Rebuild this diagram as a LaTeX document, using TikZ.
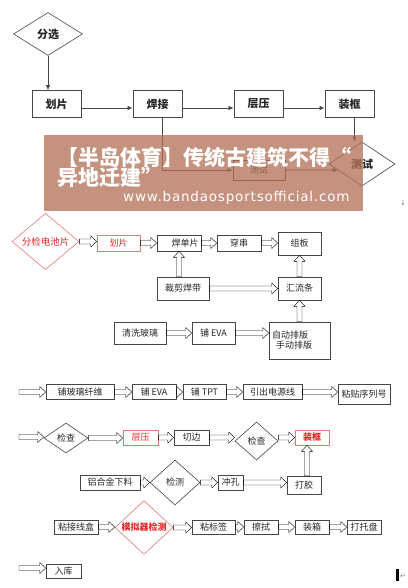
\documentclass[tikz,border=0pt]{standalone}
\usepackage{fontspec}
\setmainfont{Noto Sans CJK SC}
\newfontfamily\urlfont{DejaVu Sans}
\newfontfamily\urlwide[LetterSpace=6]{DejaVu Sans}
\usetikzlibrary{shapes.geometric,arrows.meta,calc}
\definecolor{linegray}{RGB}{70,70,70}
\definecolor{redline}{RGB}{228,120,120}
\definecolor{redtext}{RGB}{222,40,40}
\definecolor{bannerbrown}{RGB}{178,112,85}

\begin{document}
\begin{tikzpicture}[x=1pt, y=-1pt]
        \tikzset{
            box/.style = {draw=linegray, line width=0.6pt, rectangle, inner sep=0pt, text=black!85, font=\fontsize{9}{10}\selectfont},
            dia/.style = {draw=linegray, line width=0.6pt, diamond, inner sep=0pt, text=black!85, font=\fontsize{9}{10}\selectfont},
            bigbox/.style = {box, line width=0.8pt, minimum width=49pt, minimum height=27pt, font=\fontsize{11}{12}\selectfont\bfseries},
            redbox/.style = {draw=redline, text=redtext},
            flow/.style = {draw=linegray, line width=0.7pt, -{Latex[length=5pt, width=4.5pt]}},
            hollow/.style = {draw=linegray, line width=0.6pt, fill=white, to path={let \p1=(\tikztostart), \p2=(\tikztotarget) in
                (\x1,\y1+2.5pt) -- (\x2-6pt,\y1+2.5pt) -- (\x2-6pt,\y1+5.5pt) -- (\x2,\y1) -- (\x2-6pt,\y1-5.5pt) -- (\x2-6pt,\y1-2.5pt) -- (\x1,\y1-2.5pt) -- cycle}},
            hollowup/.style = {draw=linegray, line width=0.6pt, fill=white, to path={let \p1=(\tikztostart), \p2=(\tikztotarget) in
                (\x1-2.5pt,\y1) -- (\x1-2.5pt,\y2-6pt) -- (\x1-5.5pt,\y2-6pt) -- (\x1,\y2) -- (\x1+5.5pt,\y2-6pt) -- (\x1+2.5pt,\y2-6pt) -- (\x1+2.5pt,\y1) -- cycle}}
        }

        \useasboundingbox (0,0) rectangle (407,588);

        \node[dia, minimum width=69pt, minimum height=43pt, font=\fontsize{11}{12}\selectfont\bfseries] (fx) at (48,34) {分选};

        \node[bigbox] (hp) at (56.5,104) {划片};
        \node[bigbox] (hj) at (157.5,104) {焊接};
        \node[bigbox] (cy) at (258.5,104) {层压};
        \node[bigbox] (zk) at (349.5,104) {装框};

        \node[box, minimum width=52pt, minimum height=20pt] (el) at (259,170) {测试};
        \node[dia, minimum width=66pt, minimum height=44pt, font=\fontsize{11}{12}\selectfont\bfseries] (cs) at (362,164) {测试};

        \draw[flow] (fx.south) -- (fx.south |- hp.north);
        \draw[flow] ([yshift=-4pt]hp.east) -- ([yshift=-4pt]hj.west);
        \draw[flow] ([yshift=-4pt]hj.east) -- ([yshift=-4pt]cy.west);
        \draw[flow] ([yshift=-4pt]cy.east) -- ([yshift=-4pt]zk.west);
        \draw[flow] ([xshift=5pt]hj.south) |- (el.west);
        \draw[flow] (el.east) -- (cs.194);
        \draw[flow] ([xshift=5pt]zk.south) -- ([xshift=5pt]zk.south |- cs.north);

        \fill[bannerbrown, fill opacity=0.76] (44,135) rectangle (363,211);
        \node[anchor=base west, inner sep=0pt, text=white, font=\fontsize{21}{20}\selectfont\bfseries] (bt1) at (57,165) {【半岛体育】传统古建筑不得“};
        \node[anchor=base west, inner sep=0pt, text=white, font=\fontsize{21}{20}\selectfont\bfseries] (bt2) at (57,185) {异地迁建”};
        \node[anchor=base west, inner sep=0pt, text=white, font=\urlwide\fontsize{13.5}{15}\selectfont] (url) at (123,201) {www.bandaosportsofficial.com};
        \node[text=gray, inner sep=0pt, font=\urlfont\fontsize{7}{8}\selectfont] (m1) at (403,203) {↓};

        \node[dia, redbox, minimum width=67pt, minimum height=43pt, font=\fontsize{9.5}{11}\selectfont] (fj) at (45.5,241.5) {分检电池片};
        \node[box, redbox, minimum width=43pt, minimum height=16pt] (hp2) at (118.5,243) {划片};
        \node[box, minimum width=44pt, minimum height=16pt] (hd) at (179,243) {\hspace{12pt}焊单片};
        \node[box, minimum width=44pt, minimum height=16pt] (cc) at (239,243) {穿串};
        \node[box, minimum width=43pt, minimum height=23pt] (zb) at (299.5,243.5) {组板};

        \node[box, minimum width=52pt, minimum height=23pt] (cj) at (183,288.5) {裁剪焊带};
        \node[box, minimum width=43pt, minimum height=23pt] (hl) at (299.5,288.5) {汇流条};

        \node[box, minimum width=52pt, minimum height=22pt] (qx) at (140,333) {清洗玻璃};
        \node[box, minimum width=43pt, minimum height=22pt] (ev) at (213.5,333) {铺 EVA};
        \node[box, minimum width=61pt, minimum height=37pt, align=left, text width=55pt] (pb) at (299.5,340.5) {自动排版\\\hspace*{4pt}手动排版};

        \draw (fj.east) to[hollow] (hp2.west);
        \draw (hp2.east) to[hollow] (hd.west);
        \draw (hd.east) to[hollow] (cc.west);
        \draw (cc.east) to[hollow] (zb.west);
        \draw (cj.north -| hd.south) to[hollowup] (hd.south);
        \draw (cj.east) to[hollow] (hl.west);
        \draw (hl.north) to[hollowup] (zb.south);
        \draw (pb.north) to[hollowup] (hl.south);
        \draw (qx.east) to[hollow] (ev.west);
        \draw (ev.east) to[hollow] (pb.west);

        \coordinate (s3) at (19,392);
        \node[box, minimum width=68pt, minimum height=15pt] (bl) at (80,392) {铺玻璃纤维};
        \node[box, minimum width=44pt, minimum height=15pt] (ev2) at (154,392) {铺 EVA};
        \node[box, minimum width=43pt, minimum height=15pt] (tp) at (204.5,392) {铺 TPT};
        \node[box, minimum width=59pt, minimum height=15pt] (yc) at (272.5,392) {引出电源线};
        \node[box, minimum width=52pt, minimum height=20pt] (nt) at (364,394) {粘贴序列号};

        \draw (s3) to[hollow] (bl.west);
        \draw (bl.east) to[hollow] (ev2.west);
        \draw (ev2.east) to[hollow] (tp.west);
        \draw (tp.east) to[hollow] (yc.west);
        \draw (yc.east) to[hollow] (nt.west);

        \coordinate (s4) at (19,437);
        \node[dia, minimum width=44pt, minimum height=30pt] (jc1) at (66,438) {检查};
        \node[box, redbox, minimum width=35pt, minimum height=15pt] (cy2) at (140.5,437.5) {层压};
        \node[box, minimum width=35pt, minimum height=15pt] (qb) at (191.5,437.5) {切边};
        \node[dia, minimum width=43pt, minimum height=38pt] (jc2) at (256.5,441) {检查};
        \node[box, redbox, minimum width=34pt, minimum height=15pt, font=\fontsize{9}{10}\selectfont\bfseries] (zk2) at (312,437.5) {装框};

        \draw (s4) to[hollow] (jc1.west);
        \draw (jc1.east) to[hollow] (cy2.west);
        \draw (cy2.east) to[hollow] (qb.west);
        \draw (qb.east) to[hollow] (jc2.west);
        \draw (jc2.east |- zk2.west) to[hollow] (zk2.west);

        \node[box, minimum width=60pt, minimum height=15pt] (lh) at (110,482.5) {铝合金下料};
        \node[dia, minimum width=50pt, minimum height=45pt] (jc3) at (175,482.5) {检测};
        \node[box, minimum width=25pt, minimum height=15pt] (ck) at (230.5,482.5) {冲孔};
        \node[box, minimum width=34pt, minimum height=18pt] (dj) at (304,485) {打胶};

        \draw (lh.east) to[hollow] (jc3.west);
        \draw (jc3.east) to[hollow] (ck.west);
        \draw (ck.east) to[hollow] (dj.west);
        \draw (dj.north -| 307,0) to[hollowup] (zk2.south -| 307,0);

        \node[box, minimum width=44pt, minimum height=14pt] (nj) at (76,527) {粘接线盒};
        \node[dia, redbox, minimum width=58pt, minimum height=47pt, font=\fontsize{9}{10}\selectfont\bfseries] (mn) at (144,527.5) {模拟器检测};
        \node[box, minimum width=43pt, minimum height=14pt] (nb) at (213.5,527) {粘标签};
        \node[box, minimum width=34pt, minimum height=14pt] (cs2) at (261,527) {擦拭};
        \node[box, minimum width=34pt, minimum height=14pt] (zx) at (312,527) {装箱};
        \node[box, minimum width=34pt, minimum height=14pt] (dt) at (364,527) {打托盘};

        \draw (nj.east) to[hollow] (mn.west);
        \draw (mn.east) to[hollow] (nb.west);
        \draw (nb.east) to[hollow] (cs2.west);
        \draw (cs2.east) to[hollow] (zx.west);
        \draw (zx.east) to[hollow] (dt.west);

        \coordinate (s7) at (19,568);
        \node[box, minimum width=35pt, minimum height=14pt] (rk) at (63.5,571) {入库};

        \draw (s7) to[hollow] (rk.west);

        \fill[black] (396,569) rectangle (398.5,581);
        \node[text=gray, inner sep=0pt, font=\urlfont\fontsize{7}{8}\selectfont] (m2) at (403,576) {↵};

    \end{tikzpicture}
\end{document}
